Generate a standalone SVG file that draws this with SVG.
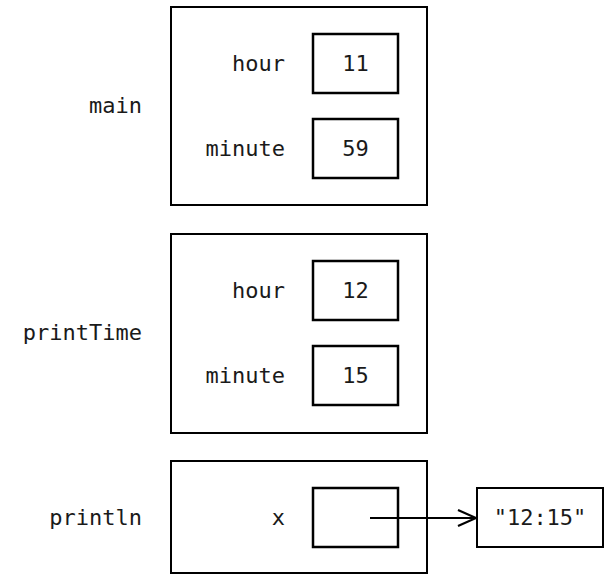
<svg xmlns="http://www.w3.org/2000/svg" width="606" height="575" viewBox="0 0 606 575">
<defs>
<style>
.frame{fill:none;stroke:#000;stroke-width:2}
.box{fill:none;stroke:#000;stroke-width:2.5}
text{font-family:"DejaVu Sans Mono","Liberation Mono",monospace;font-size:22px;fill:#1a1a1a}
.r{text-anchor:end}
.c{text-anchor:middle}
.conn{fill:none;stroke:#000;stroke-width:2}
</style>
<marker id="arr" markerWidth="22" markerHeight="20" refX="20" refY="10" orient="auto" markerUnits="userSpaceOnUse">
<path d="M2,2 L20,10 L2,18" fill="none" stroke="#000" stroke-width="2.2"/>
</marker>
</defs>
<rect width="606" height="575" fill="#fff"/>
<g id="main">
<text class="r" x="142" y="113">main</text>
<rect class="frame" x="171" y="7" width="256" height="198"/>
<text class="r" x="285" y="71">hour</text>
<rect class="box" x="313" y="34" width="85" height="59"/>
<text class="c" x="355.5" y="71">11</text>
<text class="r" x="285" y="156">minute</text>
<rect class="box" x="313" y="119" width="85" height="59"/>
<text class="c" x="355.5" y="156">59</text>
</g>
<g id="printTime">
<text class="r" x="142" y="340">printTime</text>
<rect class="frame" x="171" y="234" width="256" height="199"/>
<text class="r" x="285" y="298">hour</text>
<rect class="box" x="313" y="261" width="85" height="59"/>
<text class="c" x="355.5" y="298">12</text>
<text class="r" x="285" y="383">minute</text>
<rect class="box" x="313" y="346" width="85" height="59"/>
<text class="c" x="355.5" y="383">15</text>
</g>
<g id="println">
<text class="r" x="142" y="525">println</text>
<rect class="frame" x="171" y="461" width="256" height="112"/>
<text class="r" x="285" y="525">x</text>
<rect class="box" x="313" y="488" width="85" height="59"/>
</g>
<g id="str">
<rect class="frame" x="477" y="488" width="126" height="59"/>
<text class="c" x="540" y="525">"12:15"</text>
</g>
<g id="connectors">
<line class="conn" x1="370" y1="518" x2="476" y2="518" marker-end="url(#arr)"/>
</g>
</svg>
